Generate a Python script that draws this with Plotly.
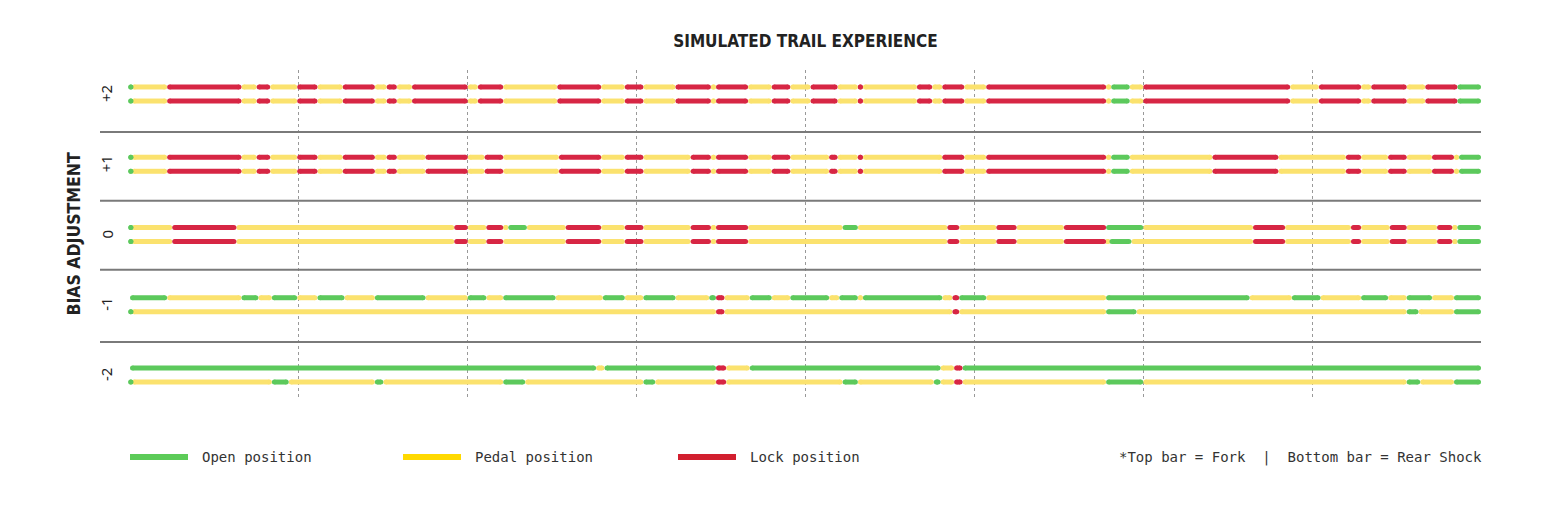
import plotly.graph_objects as go

# ---------------- data ----------------
X_MAX = 800
GRID_TICKS = [100, 200, 300, 400, 500, 600, 700]
ROW_LEVELS = [2, 1, 0, -1, -2]
ROW_LABELS = ["+2", "+1", "0", "-1", "-2"]
SEPARATORS = [1.46, 0.48, -0.5, -1.53]

STATE_CODES = ["O", "P", "L"]
STATE_LABELS = ["Open position", "Pedal position", "Lock position"]

# segment edges (trail position) and the state of each segment between edges
P2_FORK_EDGES = [0, 1, 22, 66, 75, 83, 99, 111, 126, 145, 152, 158, 167, 200, 206, 221, 253, 279,
                 293, 304, 323, 344, 347, 366, 380, 391, 403, 419, 431, 434, 466, 475, 481, 494,
                 507, 578, 581, 592, 600, 687, 704, 729, 735, 756, 767, 786, 800]
P2_FORK_STATES = "O" + "PLPLPLPLPLPLPLPLPLPLPLPLPLPLPLPLPL" + "PO" + "PLPLPLPL" + "O"
P2_REAR_EDGES = [0, 1, 22, 66, 75, 83, 99, 111, 126, 145, 152, 158, 167, 200, 206, 221, 253, 279,
                 293, 304, 323, 344, 347, 366, 380, 391, 403, 419, 431, 434, 466, 475, 481, 494,
                 507, 578, 581, 592, 600, 687, 704, 729, 735, 756, 767, 786, 800]
P2_REAR_STATES = "O" + "PLPLPLPLPLPLPLPLPLPLPLPLPLPLPLPLPL" + "PO" + "PLPLPLPL" + "O"

P1_FORK_EDGES = [0, 1, 22, 66, 75, 83, 99, 111, 126, 145, 152, 158, 175, 200, 210, 221, 254, 279,
                 293, 304, 332, 344, 347, 366, 380, 391, 414, 419, 431, 434, 481, 494, 507, 578,
                 581, 592, 641, 680, 720, 729, 745, 756, 771, 784, 787, 800]
P1_FORK_STATES = "O" + "PLPLPLPLPLPLPLPLPLPLPLPLPLPLPLPL" + "PO" + "PLPLPLPL" + "PO"
P1_REAR_EDGES = [0, 1, 22, 66, 75, 83, 99, 111, 126, 145, 152, 158, 175, 200, 210, 221, 254, 279,
                 293, 304, 332, 344, 347, 366, 380, 391, 414, 419, 431, 434, 481, 494, 507, 578,
                 581, 592, 641, 680, 720, 729, 745, 756, 771, 784, 787, 800]
P1_REAR_STATES = "O" + "PLPLPLPLPLPLPLPLPLPLPLPLPLPLPLPL" + "PO" + "PLPLPLPL" + "PO"

Z0_FORK_EDGES = [0, 1, 25, 63, 192, 200, 211, 221, 224, 235, 258, 279, 293, 304, 332, 344, 347,
                 366, 422, 431, 484, 491, 513, 525, 553, 578, 600, 665, 684, 723, 729, 746, 756,
                 774, 783, 786, 800]
Z0_FORK_STATES = "OPLPLPLPOPLPLPLPLPOPLPLPLOPLPLPLPLPO"
Z0_REAR_EDGES = [0, 1, 25, 63, 192, 200, 211, 221, 258, 279, 293, 304, 332, 344, 347, 366, 484,
                 491, 513, 525, 553, 578, 580, 593, 665, 684, 723, 729, 746, 756, 774, 783, 786, 800]
Z0_REAR_STATES = "O" + "PLPLPLPLPLPLPLPLPLPL" + "PO" + "PLPLPLPL" + "PO"

M1_FORK_EDGES = [0, 22, 66, 76, 84, 99, 111, 127, 145, 175, 200, 211, 221, 252, 280, 293, 304,
                 323, 343, 347, 352, 367, 380, 391, 414, 420, 431, 434, 481, 487, 491, 507, 578,
                 663, 688, 705, 729, 745, 756, 771, 784, 800]
M1_FORK_STATES = "OPOPOPOPOPOPOPOPOPO" + "LP" + "OPOPOPO" + "PL" + "OPOPOPOPOPO"
M1_REAR_EDGES = [0, 1, 347, 352, 487, 491, 578, 596, 756, 763, 784, 800]
M1_REAR_STATES = "OPLPLPOPOPO"

M2_FORK_EDGES = [0, 276, 281, 347, 353, 367, 480, 488, 493, 800]
M2_FORK_STATES = "OPOLPOPLO"
M2_REAR_EDGES = [0, 1, 84, 94, 145, 150, 221, 234, 304, 311, 347, 353, 422, 431, 476, 480, 488,
                 493, 578, 600, 756, 764, 784, 800]
M2_REAR_STATES = "OPOPOPOPOP" + "L" + "POPOP" + "L" + "POPOPO"

BARS = [
    (2, P2_FORK_EDGES, P2_FORK_STATES, P2_REAR_EDGES, P2_REAR_STATES),
    (1, P1_FORK_EDGES, P1_FORK_STATES, P1_REAR_EDGES, P1_REAR_STATES),
    (0, Z0_FORK_EDGES, Z0_FORK_STATES, Z0_REAR_EDGES, Z0_REAR_STATES),
    (-1, M1_FORK_EDGES, M1_FORK_STATES, M1_REAR_EDGES, M1_REAR_STATES),
    (-2, M2_FORK_EDGES, M2_FORK_STATES, M2_REAR_EDGES, M2_REAR_STATES),
]

# ---------------- style ----------------
BAR_COLORS = {"O": "#5cc95c", "P": "#fbe26e", "L": "#d72644"}
LEGEND_COLORS = {"O": "#5ccb58", "P": "#ffd900", "L": "#d21f2f"}
BAR_WIDTH = 5
BAR_OFFSET = 0.1
PAGE_PAD = 8  # default body margin of the html page
FIG_W, FIG_H = 1547 - PAGE_PAD, 510 - PAGE_PAD
PLOT_L, PLOT_R, PLOT_T, PLOT_B = 130 - PAGE_PAD, 66, 70 - PAGE_PAD, 112
PLOT_W = FIG_W - PLOT_L - PLOT_R
PLOT_H = FIG_H - PLOT_T - PLOT_B
CAP = (BAR_WIDTH / 2) / (PLOT_W / X_MAX)

fig = go.Figure()


def add_bar(y, edges, states):
    for code in ["P", "O", "L"]:
        xs, ys = [], []
        for i, s in enumerate(states[: len(edges) - 1]):
            if s != code:
                continue
            a, b = edges[i], edges[i + 1]
            if b - a > 2 * CAP:
                xa, xb = a + CAP, b - CAP
            else:
                xa = xb = (a + b) / 2
            xs += [xa, xb, None]
            ys += [y, y, None]
        if xs:
            fig.add_trace(go.Scatter(
                x=xs, y=ys, mode="lines+markers",
                line=dict(color=BAR_COLORS[code], width=BAR_WIDTH),
                marker=dict(color=BAR_COLORS[code], size=BAR_WIDTH, line=dict(width=0)),
                hoverinfo="skip", showlegend=False, cliponaxis=False,
            ))


for lvl, fe, fs, re_, rs in BARS:
    add_bar(lvl + BAR_OFFSET, fe, fs)
    add_bar(lvl - BAR_OFFSET, re_, rs)

shapes = []
for s in SEPARATORS:
    shapes.append(dict(type="line", xref="paper", yref="y", x0=-30 / PLOT_W, x1=1, y0=s, y1=s,
                       line=dict(color="#7a7a7a", width=2)))

annotations = []
for lvl, lab in zip(ROW_LEVELS, ROW_LABELS):
    annotations.append(dict(x=-24 / PLOT_W, y=lvl, xref="paper", yref="y", text=lab,
                            textangle=-90, showarrow=False, xanchor="center", yanchor="middle",
                            font=dict(family="Noto Sans, DejaVu Sans, sans-serif", size=15,
                                      color="#222222")))

annotations.append(dict(x=-57 / PLOT_W, y=0, xref="paper", yref="y", text="<b>BIAS ADJUSTMENT</b>",
                        textangle=-90, showarrow=False, xanchor="center", yanchor="middle",
                        font=dict(family="Liberation Sans Narrow, DejaVu Sans Condensed, sans-serif",
                                  size=17.5, color="#222222")))

# legend
LEG_Y = -(457 - 398) / PLOT_H
LEG_LINE_X = [0, 273, 548]
for (code, lab), x0 in zip(zip(STATE_CODES, STATE_LABELS), LEG_LINE_X):
    shapes.append(dict(type="line", xref="paper", yref="paper", x0=x0 / PLOT_W, x1=(x0 + 58) / PLOT_W,
                       y0=LEG_Y, y1=LEG_Y, line=dict(color=LEGEND_COLORS[code], width=6)))
    annotations.append(dict(x=(x0 + 70) / PLOT_W, y=LEG_Y, xref="paper", yref="paper", text=lab,
                            showarrow=False, xanchor="left", yanchor="middle",
                            font=dict(family="DejaVu Sans Mono, monospace", size=14, color="#333333")))

annotations.append(dict(x=1.002, y=LEG_Y, xref="paper", yref="paper",
                        text="*Top bar = Fork\u00a0\u00a0|\u00a0\u00a0Bottom bar = Rear Shock",
                        showarrow=False, xanchor="right", yanchor="middle",
                        font=dict(family="DejaVu Sans Mono, monospace", size=14, color="#333333")))

y_top = 2 + 24 / 70.25
y_bot = -2 - 23 / 70.25

fig.update_layout(
    width=FIG_W, height=FIG_H,
    margin=dict(l=PLOT_L, r=PLOT_R, t=PLOT_T, b=PLOT_B),
    paper_bgcolor="white", plot_bgcolor="white",
    title=dict(text="<b>SIMULATED TRAIL EXPERIENCE</b>", x=0.5, xref="paper", xanchor="center",
               y=1 - (41 - PAGE_PAD) / FIG_H, yref="container", yanchor="middle",
               font=dict(family="Liberation Sans Narrow, DejaVu Sans Condensed, sans-serif",
                         size=17, color="#222222")),
    xaxis=dict(range=[0, X_MAX], tickvals=GRID_TICKS, showticklabels=False, showgrid=True,
               gridcolor="#999999", griddash="dot", gridwidth=1, zeroline=False, showline=False,
               ticks=""),
    yaxis=dict(range=[y_bot, y_top], showgrid=False, showticklabels=False, zeroline=False,
               showline=False, ticks=""),
    shapes=shapes, annotations=annotations,
    showlegend=False,
)

fig.write_html("out.html")
